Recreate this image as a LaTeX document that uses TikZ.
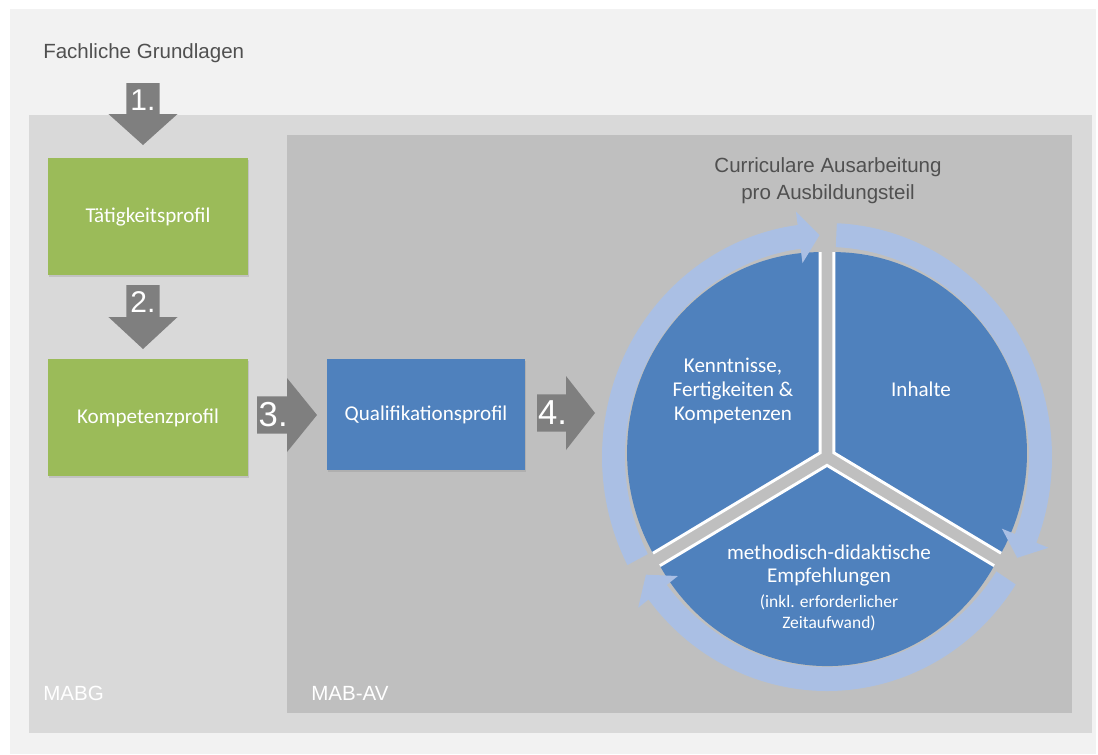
\documentclass[tikz,border=0pt]{standalone}
\usepackage{fontspec}
\setmainfont{Liberation Sans}
\newfontfamily\calibrifont{Carlito}
\usepackage{tikz}
\usetikzlibrary{calc,shadows}

\definecolor{outergray}{HTML}{F2F2F2}
\definecolor{mabggray}{HTML}{D9D9D9}
\definecolor{mabavgray}{HTML}{BFBFBF}
\definecolor{arrowgray}{HTML}{7F7F7F}
\definecolor{profgreen}{HTML}{9BBB59}
\definecolor{profblue}{HTML}{4F81BD}
\definecolor{ringblue}{RGB}{170,191,228}
\definecolor{titlegray}{HTML}{505050}

\begin{document}
\begin{tikzpicture}[x=0.75pt,y=-0.75pt,
    titletext/.style={text=titlegray,inner sep=0pt,font=\fontsize{15.4}{20.25}\selectfont},
    paneltext/.style={text=white,inner sep=0pt,font=\fontsize{15.4}{18}\selectfont},
    numtext/.style={text=white,inner sep=0pt},
    profbox/.style={text=white,inner sep=0pt,minimum width=150pt,minimum height=87.75pt,
      font=\calibrifont\fontsize{15.8}{19}\selectfont,
      drop shadow={shadow xshift=0.6pt,shadow yshift=-1.8pt,opacity=0.25}},
    circtext/.style={text=white,inner sep=0pt,align=center,font=\calibrifont\fontsize{15.8}{18}\selectfont}]
          \useasboundingbox (0,0) rectangle (1098,754);
          \fill[white] (0,0) rectangle (1098,754);
          \fill[outergray] (10,9) rectangle (1096,754);
          \fill[mabggray] (29,115) rectangle (1092,733);
          \fill[mabavgray] (287,135) rectangle (1072,713);

          \node[titletext,anchor=base west] (fg) at (43,58) {Fachliche Grundlagen};
          \node[paneltext,anchor=base west] (mabg) at (43,700) {MABG};
          \node[paneltext,anchor=base west] (mabav) at (311,700) {MAB-AV};
          \node[titletext,align=center] (cur) at (828,181) {Curriculare Ausarbeitung\\pro Ausbildungsteil};

          \node[profbox,fill=profgreen] (tp) at (148,216.5) {Tätigkeitsprofil};
          \node[profbox,fill=profgreen] (kp) at (148,417.5) {Kompetenzprofil};
          \node[profbox,fill=profblue,minimum width=148.5pt,minimum height=83.25pt] (qp) at (426,414.5) {Qualifikationsprofil};

          \coordinate (t1) at (143,83);  \coordinate (h1) at (143,145);
          \coordinate (t2) at (143,285); \coordinate (h2) at (143,349);
          \coordinate (t3) at (257,415); \coordinate (h3) at (317,415);
          \coordinate (t4) at (537,413); \coordinate (h4) at (595,413);
          \foreach \n/\s/\w/\f in {1/12.4/25.9/22.5,2/12.4/25.9/22.5,3/13.9/27.75/26,4/13.9/27.75/26}{
            \coordinate (m) at ($(t\n)!0.5!(h\n)$);
            \fill[arrowgray] ($(t\n)!\s pt!90:(h\n)$) -- ($(m)!\s pt!90:(h\n)$) -- ($(m)!\w pt!90:(h\n)$)
              -- (h\n) -- ($(m)!\w pt!-90:(h\n)$) -- ($(m)!\s pt!-90:(h\n)$) -- ($(t\n)!\s pt!-90:(h\n)$) -- cycle;
            \node[numtext,font=\fontsize{\f}{\f}\selectfont] (n\n) at ($(t\n)!0.27!(h\n)$) {\n.};
          }

          \begin{scope}[shift={(827,457)},yscale=-1.04]
            \foreach \a/\b in {90/210,-30/90,210/330}{
              \fill[profblue] ({(\a+\b)/2}:8) -- ++(\a:193) arc[start angle=\a,end angle=\b,radius=193] -- cycle;
              \draw[white,line width=2.2pt] ({(\a+\b)/2}:8) ++(\a:193) -- ({(\a+\b)/2}:8) -- ++(\b:193);
            }
            \foreach \s/\e in {207.5/92,87.5/-27,-33/-148}{
              \fill[ringblue] (\s:225) arc[start angle=\s,end angle=\e+5.5,radius=225] -- (\e+5.5:238)
                -- (\e:213.5) -- (\e+5.5:188) -- (\e+5.5:202) arc[start angle=\e+5.5,end angle=\s,radius=202] -- cycle;
            }
          \end{scope}

          \node[circtext] (kfk) at (733,391) {Kenntnisse,\\Fertigkeiten \&\\Kompetenzen};
          \node[circtext] (inh) at (921,389) {Inhalte};
          \node[circtext,font=\calibrifont\fontsize{15.8}{17.25}\selectfont] (mde) at (829,565) {methodisch-didaktische\\Empfehlungen};
          \node[circtext,font=\calibrifont\fontsize{13.1}{15.75}\selectfont] (mdz) at (829,613) {(inkl. erforderlicher\\Zeitaufwand)};
        \end{tikzpicture}
\end{document}
